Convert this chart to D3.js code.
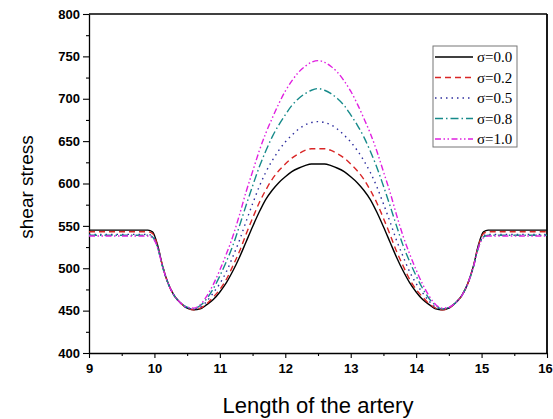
<!DOCTYPE html>
<html>
<head>
<meta charset="utf-8">
<script src="https://cdn.jsdelivr.net/npm/d3@7"></script>
<style>
  body { margin: 0; background: #fff; }
</style>
</head>
<body>
<div id="chart"></div>
<script>
// values
var xs = [9, 9.5, 9.9, 9.97, 10.05, 10.12, 10.2, 10.3, 10.4, 10.5, 10.6,
  10.7, 10.8, 10.9, 11.0, 11.1, 11.2, 11.3, 11.4, 11.5, 11.6, 11.7, 11.8, 11.9, 12.0, 12.1, 12.2, 12.3, 12.4, 12.5,
  12.6, 12.7, 12.8, 12.9, 13.0, 13.1, 13.2, 13.3, 13.4, 13.5, 13.6, 13.7, 13.8, 13.9, 14.0, 14.1, 14.2, 14.3,
  14.4, 14.5, 14.6, 14.7, 14.8, 14.88, 14.95, 15.03, 15.1, 15.5, 16];

var sigma00 = [545, 545, 545, 543, 527, 504, 484, 468, 459, 453, 451,
  452, 457, 463, 472, 483, 497, 513, 531, 549, 566, 581, 592, 601, 608, 614, 618, 621, 623, 623,
  623, 621, 618, 614, 608, 601, 592, 581, 566, 549, 531, 513, 497, 483, 472, 463, 457, 452,
  451, 453, 459, 468, 484, 504, 527, 543, 545, 545, 545];

var sigma02 = [543, 543, 543, 541, 526, 504, 484, 468, 459, 453, 451,
  453, 458, 466, 475, 487, 503, 520, 540, 559, 577, 592, 605, 615, 623, 630, 635, 639, 641, 641,
  641, 639, 635, 630, 623, 615, 605, 592, 577, 559, 540, 520, 503, 487, 475, 466, 458, 453,
  451, 453, 459, 468, 484, 504, 526, 541, 543, 543, 543];

var sigma05 = [540, 540, 540, 538, 525, 503, 484, 468, 459, 453, 452,
  454, 461, 471, 482, 496, 514, 533, 555, 576, 596, 613, 627, 639, 649, 657, 664, 669, 672, 673,
  672, 669, 664, 657, 649, 639, 627, 613, 596, 576, 555, 533, 514, 496, 482, 471, 461, 454,
  452, 453, 459, 468, 484, 503, 525, 538, 540, 540, 540];

var sigma08 = [539, 539, 539, 537, 524, 503, 484, 468, 459, 454, 452,
  456, 464, 476, 491, 508, 527, 550, 574, 597, 619, 638, 655, 669, 681, 692, 700, 706, 710, 712,
  710, 706, 700, 692, 681, 669, 655, 638, 619, 597, 574, 550, 527, 508, 491, 476, 464, 456,
  452, 454, 459, 468, 484, 503, 524, 537, 539, 539, 539];

var sigma10 = [538, 538, 538, 536, 524, 503, 484, 468, 459, 454, 453,
  457, 467, 481, 498, 517, 538, 563, 590, 614, 638, 659, 677, 694, 709, 721, 731, 738, 743, 745,
  743, 738, 731, 721, 709, 694, 677, 659, 638, 614, 590, 563, 538, 517, 498, 481, 467, 457,
  453, 454, 459, 468, 484, 503, 524, 536, 538, 538, 538];

var seriesNames = ["\u03c3=0.0", "\u03c3=0.2", "\u03c3=0.5", "\u03c3=0.8", "\u03c3=1.0"];
var seriesValues = [sigma00, sigma02, sigma05, sigma08, sigma10];
var xTicks = [9, 10, 11, 12, 13, 14, 15, 16];
var yTicks = [400, 450, 500, 550, 600, 650, 700, 750, 800];

var colors = ["#000000", "#d92626", "#2e2e9e", "#168a8a", "#e020e0"];
var dashes = [null, "6,4", "1.5,4", "8,3,1.5,3", "6,2.5,1.5,2.5,1.5,2.5"];

var width = 553, height = 419;
var margin = {left: 89, right: 6, top: 14, bottom: 66};
var sans = "Arial, 'Liberation Sans', sans-serif";

var svg = d3.select("#chart").append("svg")
  .attr("width", width)
  .attr("height", height);

var x = d3.scaleLinear().domain([9, 16]).range([margin.left, width - margin.right]);
var y = d3.scaleLinear().domain([400, 800]).range([height - margin.bottom, margin.top]);

// frame (top and right)
svg.append("line")
  .attr("x1", x(9)).attr("x2", x(16)).attr("y1", y(800)).attr("y2", y(800))
  .attr("stroke", "#000").attr("stroke-width", 1.3);
svg.append("line")
  .attr("x1", x(16)).attr("x2", x(16)).attr("y1", y(800)).attr("y2", y(400))
  .attr("stroke", "#000").attr("stroke-width", 1.8);

// minor ticks
svg.append("g")
  .attr("transform", "translate(0," + y(400) + ")")
  .call(d3.axisBottom(x).tickValues(d3.range(9.5, 16, 1)).tickSize(3).tickFormat(""))
  .call(function(g) { g.select(".domain").remove(); });
svg.append("g")
  .attr("transform", "translate(" + x(9) + ",0)")
  .call(d3.axisLeft(y).tickValues(d3.range(425, 800, 50)).tickSize(3).tickFormat(""))
  .call(function(g) { g.select(".domain").remove(); });

var xAxis = svg.append("g")
  .attr("transform", "translate(0," + y(400) + ")")
  .call(d3.axisBottom(x).tickValues(xTicks).tickSize(5).tickPadding(6).tickSizeOuter(0).tickFormat(d3.format("d")));
var yAxis = svg.append("g")
  .attr("transform", "translate(" + x(9) + ",0)")
  .call(d3.axisLeft(y).tickValues(yTicks).tickSize(6).tickPadding(3).tickSizeOuter(0));
svg.selectAll(".domain").attr("stroke-width", 1.3);
svg.selectAll(".tick line").attr("stroke-width", 1.1);
svg.selectAll(".tick text")
  .attr("font-family", sans)
  .attr("font-weight", "bold")
  .attr("font-size", "13px");
// last x label sits at the window edge; keep it inside
xAxis.selectAll(".tick text").filter(function(d) { return d === 16; }).attr("dx", "-2px");

// curves
var line = d3.line()
  .x(function(d) { return x(d[0]); })
  .y(function(d) { return y(d[1]); })
  .curve(d3.curveMonotoneX);

seriesValues.forEach(function(vals, i) {
  var pts = xs.map(function(v, j) { return [v, vals[j]]; });
  svg.append("path")
    .datum(pts)
    .attr("d", line)
    .attr("fill", "none")
    .attr("stroke", colors[i])
    .attr("stroke-width", 1.4)
    .attr("stroke-dasharray", dashes[i]);
});

// axis titles
svg.append("text")
  .attr("transform", "translate(33,187) rotate(-90)")
  .attr("text-anchor", "middle")
  .attr("font-family", sans)
  .attr("font-size", "19px")
  .text("shear stress");
svg.append("text")
  .attr("x", 318)
  .attr("y", 413)
  .attr("text-anchor", "middle")
  .attr("font-family", sans)
  .attr("font-size", "22px")
  .text("Length of the artery");

// legend
var legend = svg.append("g");
legend.append("rect")
  .attr("x", 433).attr("y", 46).attr("width", 84).attr("height", 101)
  .attr("fill", "#fff").attr("stroke", "#777").attr("stroke-width", 1);
seriesNames.forEach(function(name, i) {
  var ly = 57 + i * 20.5;
  legend.append("line")
    .attr("x1", 435).attr("x2", 473).attr("y1", ly).attr("y2", ly)
    .attr("stroke", colors[i]).attr("stroke-width", 1.4)
    .attr("stroke-dasharray", dashes[i]);
  legend.append("text")
    .attr("x", 477).attr("y", ly + 5)
    .attr("font-family", "'Liberation Serif', 'Times New Roman', serif")
    .attr("font-size", "15px")
    .text(name);
});
</script>
</body>
</html>
